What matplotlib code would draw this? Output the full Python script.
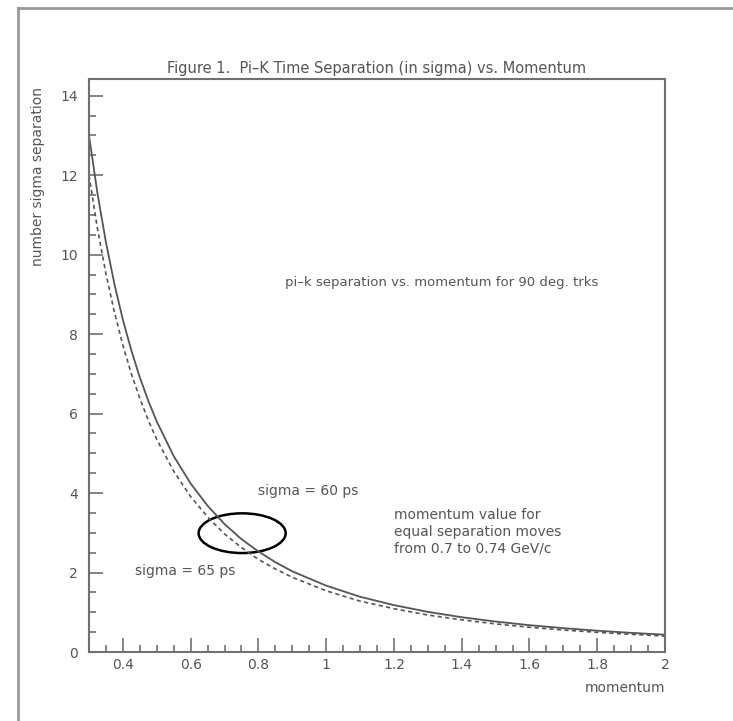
"""
Pi-K time separation (in sigma) vs momentum, two timing resolutions.
Writes out.png.
"""
import matplotlib.pyplot as plt
from matplotlib.patches import Ellipse
from matplotlib.ticker import MultipleLocator

# momentum (GeV/c) and separation
momentum = [0.300, 0.325, 0.350, 0.375, 0.400, 0.425, 0.450, 0.475, 0.50,
            0.55, 0.60, 0.65, 0.70, 0.75, 0.80, 0.85, 0.90, 1.00, 1.10,
            1.20, 1.30, 1.40, 1.50, 1.60, 1.70, 1.80, 1.90, 2.00]
sep_60ps = [13.00, 11.54, 10.31, 9.26, 8.36, 7.59, 6.91, 6.32, 5.80,
            4.93, 4.24, 3.68, 3.22, 2.84, 2.53, 2.26, 2.03, 1.67, 1.39,
            1.18, 1.01, 0.875, 0.766, 0.675, 0.60, 0.536, 0.482, 0.435]
sep_65ps = [12.00, 10.65, 9.52, 8.55, 7.72, 7.00, 6.38, 5.83, 5.35,
            4.55, 3.91, 3.40, 2.97, 2.63, 2.33, 2.09, 1.88, 1.54, 1.28,
            1.09, 0.93, 0.81, 0.707, 0.623, 0.553, 0.495, 0.445, 0.40]

xticks = [0.4, 0.6, 0.8, 1.0, 1.2, 1.4, 1.6, 1.8, 2.0]
xticklabels = ["0.4", "0.6", "0.8", "1", "1.2", "1.4", "1.6", "1.8", "2"]
yticks = [0, 2, 4, 6, 8, 10, 12, 14]

GREY = "#707070"
TXT = "#555555"
FS = 10

plt.rcParams["font.family"] = ["DejaVu Sans"]

W, H = 733, 721
fig = plt.figure(figsize=(W / 100, H / 100), dpi=100)
ax = fig.add_axes([89 / W, 1 - 652 / H, 576 / W, 573 / H])

ax.plot(momentum, sep_60ps, color="#555555", lw=1.3)
ax.plot(momentum, sep_65ps, color="#555555", lw=1.2, ls=(0, (2.5, 2)))

ax.add_patch(Ellipse((0.752, 2.99), 0.257, 1.0, fill=False,
                     edgecolor="black", lw=1.8))

ax.set_xlim(0.3, 2.0)
ax.set_ylim(0, 14.42)
ax.set_xticks(xticks)
ax.set_xticklabels(xticklabels)
ax.set_yticks(yticks)
ax.xaxis.set_minor_locator(MultipleLocator(0.05))
ax.yaxis.set_minor_locator(MultipleLocator(0.5))
ax.tick_params(which="both", direction="in", color=GREY, width=1.2,
               labelcolor=TXT, labelsize=FS)
ax.tick_params(which="major", length=10)
ax.tick_params(which="minor", length=5)
ax.tick_params(axis="y", which="major", pad=8)
ax.tick_params(axis="x", which="major", pad=4)
for s in ax.spines.values():
    s.set_color(GREY)
    s.set_linewidth(1.5)

ax.text(0.877, 9.31, "pi\u2013k separation vs. momentum for 90 deg. trks",
        fontsize=9.5, color=TXT, va="center")
ax.text(0.80, 4.05, "sigma = 60 ps", fontsize=FS, color=TXT, va="center")
ax.text(1.2015, 3.02, "momentum value for\nequal separation moves\n"
        "from 0.7 to 0.74 GeV/c", fontsize=FS, color=TXT, va="center",
        linespacing=1.25)
ax.text(0.435, 2.05, "sigma = 65 ps", fontsize=FS, color=TXT, va="center")

fig.text(377 / W, 1 - 69 / H,
         "Figure 1.  Pi\u2013K Time Separation (in sigma) vs. Momentum",
         ha="center", va="center", fontsize=10.5, color=TXT)
fig.text(665 / W, 1 - 688 / H, "momentum", ha="right", va="center",
         fontsize=FS, color=TXT)
fig.text(38 / W, 1 - 177 / H, "number sigma separation", rotation=90,
         ha="center", va="center", fontsize=FS, color=TXT)

# outer page frame
fig.add_artist(plt.Line2D([18 / W, 18 / W], [0, 1 - 8 / H],
                          transform=fig.transFigure, color="#999999", lw=2))
fig.add_artist(plt.Line2D([18 / W, 1], [1 - 8 / H, 1 - 8 / H],
                          transform=fig.transFigure, color="#999999", lw=2))

fig.savefig("out.png", dpi=100)
